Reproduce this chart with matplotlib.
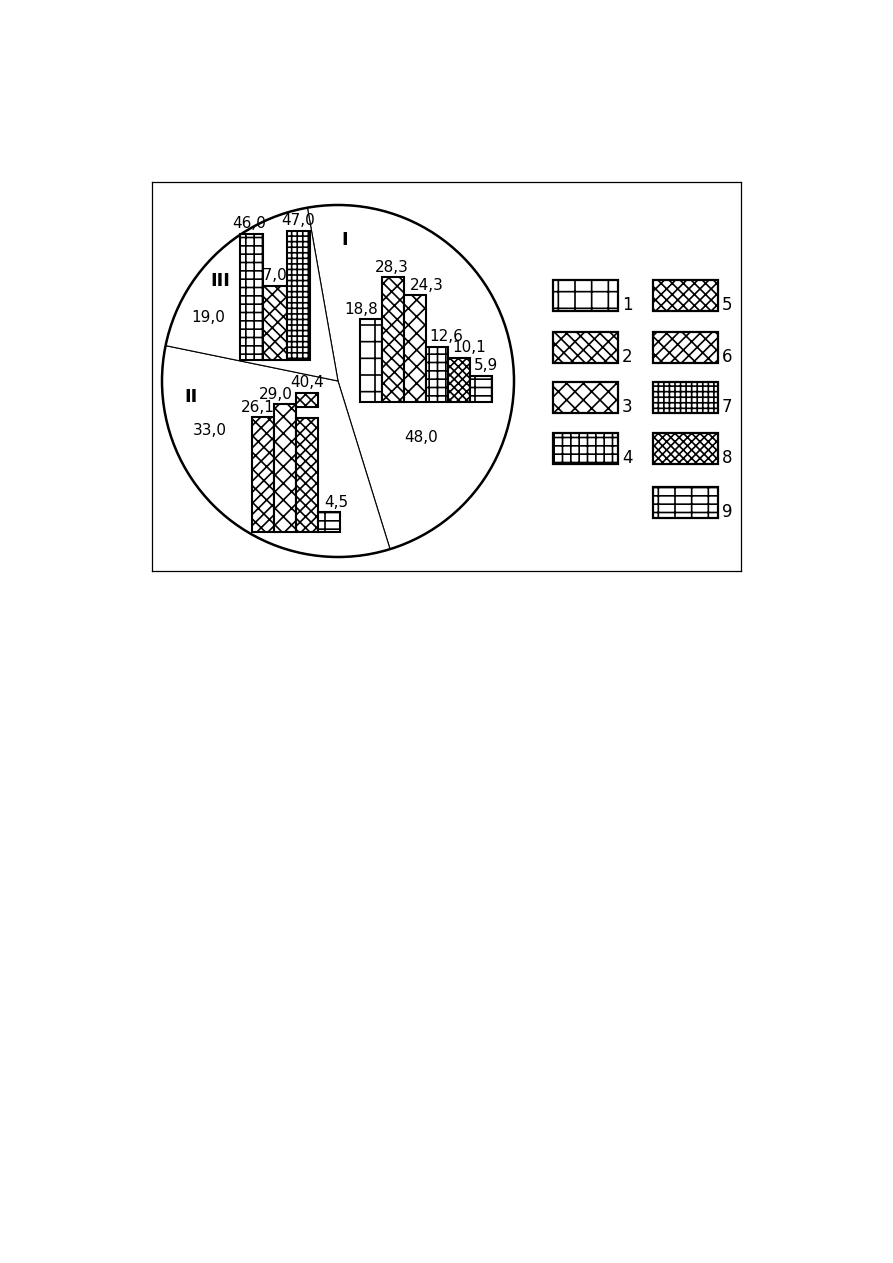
import matplotlib
matplotlib.use('Agg')
import matplotlib.pyplot as plt
from matplotlib.patches import Rectangle, Circle

W, H = 893, 1263

# sector shares (%), clockwise from the top
shares = [48.0, 33.0, 19.0]
share_names = ['I', 'II', 'III']

# bars inside each sector: values and pattern type (1..9 of the key)
vals_I = [18.8, 28.3, 24.3, 12.6, 10.1, 5.9]
types_I = [1, 2, 3, 4, 8, 9]
vals_II = [26.1, 29.0, 40.4, 4.5]
types_II = [6, 3, 5, 9]
vals_III = [46.0, 27.0, 47.0]
types_III = [4, 2, 7]

legend_ids = [1, 2, 3, 4, 5, 6, 7, 8, 9]

hatches = {1: '+', 2: 'xx\\', 3: 'xx', 4: '++', 5: 'xxx',
           6: 'xx/', 7: '+++', 8: 'xxxx', 9: '+-'}

plt.rcParams['font.family'] = ['DejaVu Sans']
plt.rcParams['hatch.linewidth'] = 1.2


def fmt(v):
    return f'{v:.1f}'.replace('.', ',')


def rect(x0, y0, x1, y1):
    # pixel box (top-left origin) -> figure fraction
    return [x0 / W, 1 - y1 / H, (x1 - x0) / W, (y1 - y0) / H]


fig = plt.figure(figsize=(W / 100, H / 100), dpi=100)

# outer frame + key
frame = fig.add_axes(rect(152, 182, 741, 571), zorder=0)
frame.set_xlim(152, 741)
frame.set_ylim(571, 182)
frame.set_xticks([])
frame.set_yticks([])
for s in frame.spines.values():
    s.set_linewidth(0.9)

key_x = [553, 653]
key_y = [280, 332, 382, 433, 487]
for i, t in enumerate(legend_ids):
    col = 0 if i < 4 else 1
    row = i if i < 4 else i - 4
    x, y = key_x[col], key_y[row]
    frame.add_patch(Rectangle((x, y), 65, 31, facecolor='white', edgecolor='black',
                              linewidth=1.6, hatch=hatches[t]))
    frame.text(x + 69, y + 30, str(t), fontsize=12, ha='left', va='baseline')

# pie
cx, cy, r = 338, 381, 176
m = 1.06
pax = fig.add_axes(rect(cx - r * m, cy - r * m, cx + r * m, cy + r * m), zorder=1)
pax.pie(shares, startangle=100, counterclock=False, colors=['white'] * 3,
        wedgeprops=dict(edgecolor='black', linewidth=0.8))
pax.add_patch(Circle((0, 0), 1, fill=False, edgecolor='black', linewidth=1.8))
pax.set_xlim(-m, m)
pax.set_ylim(-m, m)
pax.set_aspect('equal')
pax.axis('off')

name_pos = [(0.04, 0.80), (-0.835, -0.09), (-0.67, 0.57)]
pct_pos = [(0.47, -0.32), (-0.73, -0.28), (-0.74, 0.36)]
for name, v, npos, ppos in zip(share_names, shares, name_pos, pct_pos):
    pax.text(*npos, name, fontsize=13, fontweight='bold', ha='center', va='center')
    pax.text(*ppos, fmt(v), fontsize=11, ha='center', va='center')


def draw_group(box, vals, types, ymax, dx_pt, brk=None):
    ax = fig.add_axes(rect(*box), zorder=2)
    ax.set_xlim(-0.5, len(vals) - 0.5)
    ax.set_ylim(0, ymax)
    ax.axis('off')
    ax.patch.set_visible(False)
    style = dict(width=1.0, color='white', edgecolor='black', linewidth=1.5, clip_on=False)
    for i, (v, t) in enumerate(zip(vals, types)):
        top = v
        if brk is not None and v > brk[2]:
            # broken bar: lower part, gap, short top piece
            lo, c0, c1 = brk
            ax.bar(i, lo, hatch=hatches[t], **style)
            ax.bar(i, c1 - c0, bottom=c0, hatch=hatches[t], **style)
            top = c1
        else:
            ax.bar(i, v, hatch=hatches[t], **style)
        ax.annotate(fmt(v), (i, top), xytext=(dx_pt[i], 4), textcoords='offset points',
                    ha='center', va='baseline', fontsize=11, zorder=0.5)
    return ax


draw_group((360, 248, 492, 402), vals_I, types_I, 35, [-7, -1, 8.5, 6.5, 7, 3.5])
draw_group((252, 378, 340, 532), vals_II, types_II, 35, [-3.5, -6.5, 0, 5],
           brk=(26.0, 28.5, 31.7))
draw_group((240, 222.5, 310, 360), vals_III, types_III, 50, [-2, -3.2, 0])

fig.savefig('out.png', dpi=100, facecolor='white')
